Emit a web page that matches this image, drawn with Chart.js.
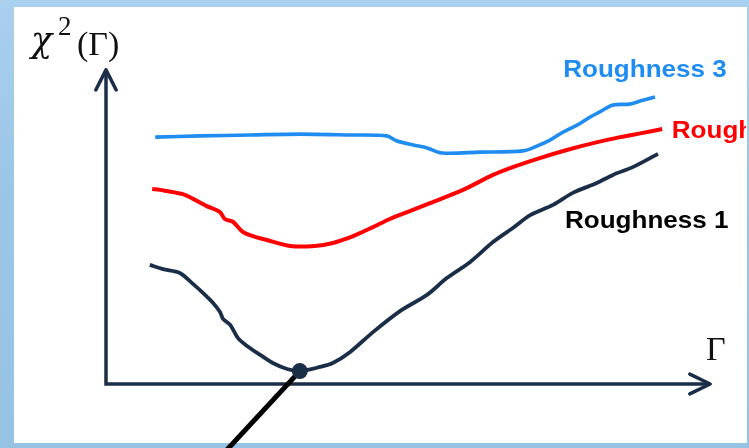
<!DOCTYPE html>
<html lang="en">

<head>
    <meta charset="UTF-8">
    <title>Chi-square vs Gamma</title>
    <script src="https://cdn.jsdelivr.net/npm/chart.js@4.4.0/dist/chart.umd.min.js"></script>
    <style>
        body { margin: 0; width: 749px; height: 448px; overflow: hidden;
               background: linear-gradient(180deg, #a9d0ee 0%, #9cc6e6 40%, #96c2e4 100%); }
        #panel { position: absolute; left: 14px; top: 7px; width: 733px; height: 436px; background: #fff; }
        #chart { position: absolute; left: 0; top: 0; }
    </style>
</head>

<body>
    <div id="panel"></div>
    <canvas id="chart" width="749" height="448"></canvas>
    <script>
        // values: x = Gamma, y = chi^2 (arbitrary units)
        const rough3X = [8.2, 15.7, 24.0, 32.3, 40.7, 46.8, 48.5, 51.2, 53.5, 56.0, 62.3, 69.5, 71.8, 74.0, 76.2, 78.5, 80.7, 82.3, 84.5, 87.3, 89.0, 91.5],
            rough3Y = [82.3, 82.7, 83.0, 83.3, 83.0, 82.7, 81.0, 79.7, 78.7, 77.0, 77.3, 77.7, 79.3, 81.3, 84.0, 86.3, 89.0, 90.7, 93.0, 93.3, 94.3, 95.7],
            rough2X = [7.7, 9.0, 12.8, 14.5, 16.8, 19.0, 19.8, 21.2, 22.8, 24.5, 26.8, 30.7, 34.8, 37.8, 41.2, 44.5, 47.3, 50.2, 54.0, 59.5, 64.5, 67.8, 72.3, 76.8, 81.2, 85.7, 89.5, 92.7],
            rough2Y = [65.0, 64.7, 63.3, 61.7, 59.3, 57.3, 55.0, 54.0, 50.7, 49.3, 48.0, 46.0, 46.0, 47.0, 49.3, 52.3, 55.0, 57.3, 60.3, 64.7, 69.7, 72.3, 75.3, 78.0, 80.3, 82.3, 83.7, 85.0],
            rough1X = [7.3, 9.5, 12.3, 14.3, 16.2, 17.7, 19.0, 19.5, 20.7, 22.0, 23.5, 25.7, 27.8, 30.2, 32.3, 35.7, 37.8, 40.7, 44.5, 49.0, 53.5, 56.8, 60.7, 64.5, 67.8, 70.7, 74.5, 77.8, 81.8, 84.5, 87.8, 92.0],
            rough1Y = [39.7, 38.3, 37.0, 33.7, 30.3, 27.3, 24.0, 21.7, 19.7, 15.3, 12.7, 9.7, 7.0, 5.0, 4.3, 5.7, 7.0, 10.7, 17.3, 24.3, 29.7, 35.3, 40.7, 47.3, 52.0, 56.3, 59.7, 63.7, 67.0, 69.7, 72.3, 76.7],
            minGamma = 32.3,
            minChi = 4.3,
            pointerEnd = [19.8, -22.7],
            axisEnd = [100.7, 104.7],
            seriesNames = ['Roughness 1', 'Roughness 2', 'Roughness 3'];

        const toPoints = (xs, ys) => xs.map((x, i) => ({ x, y: ys[i] })),
            navy = '#1b2e47',
            red = '#ff0000',
            blue = '#1e8cf0';

        // text stretched a little to the width of the original lettering
        const wideText = (ctx, text, x, y) => {
            ctx.save();
            ctx.translate(x, y);
            ctx.scale(1.085, 1);
            ctx.fillText(text, 0, 0);
            ctx.restore();
        };

        // arrow heads on the axes and the text labels
        const decorations = {
            id: 'decorations',
            afterDatasetsDraw(chart) {
                const { ctx, scales: { x, y } } = chart,
                    px = v => x.getPixelForValue(v),
                    py = v => y.getPixelForValue(v);
                ctx.save();
                ctx.strokeStyle = navy;
                ctx.lineWidth = 3.5;
                ctx.lineCap = 'round';
                ctx.lineJoin = 'round';
                ctx.beginPath();
                ctx.moveTo(px(-1.7), py(axisEnd[1] - 6.7));
                ctx.lineTo(px(0), py(axisEnd[1]));
                ctx.lineTo(px(1.7), py(axisEnd[1] - 6.7));
                ctx.moveTo(px(axisEnd[0] - 3.4), py(3.3));
                ctx.lineTo(px(axisEnd[0]), py(0));
                ctx.lineTo(px(axisEnd[0] - 3.4), py(-3.3));
                ctx.stroke();

                ctx.font = 'bold 24px "Liberation Sans", Arial, sans-serif';
                ctx.textBaseline = 'alphabetic';
                ctx.fillStyle = blue;
                wideText(ctx, seriesNames[2], px(76.2), py(102.3));
                ctx.fillStyle = '#000';
                wideText(ctx, seriesNames[0], px(76.5), py(52));
                ctx.save();
                ctx.beginPath();
                ctx.rect(0, 0, 746, 448);
                ctx.clip();
                ctx.fillStyle = red;
                wideText(ctx, seriesNames[1], px(94.3), py(82));
                ctx.restore();

                ctx.fillStyle = '#111';
                ctx.font = '34px "Liberation Serif", "Times New Roman", serif';
                ctx.fillText('\u0393', px(100), py(8));
                ctx.font = 'italic 35px "DejaVu Serif", serif';
                ctx.fillText('\u03c7', 31, 52);
                ctx.font = '27px "Liberation Serif", "Times New Roman", serif';
                ctx.fillText('2', 58, 35);
                ctx.font = '34px "Liberation Serif", "Times New Roman", serif';
                ctx.fillText('(\u0393)', 77, 55);
                ctx.restore();
            }
        };

        new Chart(document.getElementById('chart').getContext('2d'), {
            type: 'scatter',
            data: {
                datasets: [{
                    data: [{ x: minGamma, y: minChi }],
                    pointRadius: 8,
                    backgroundColor: navy,
                    borderWidth: 0,
                    showLine: false
                }, {
                    data: [{ x: minGamma, y: minChi }, { x: pointerEnd[0], y: pointerEnd[1] }],
                    borderColor: '#000',
                    borderWidth: 5,
                    pointRadius: 0,
                    showLine: true
                }, {
                    data: toPoints(rough1X, rough1Y),
                    borderColor: navy,
                    borderWidth: 3.8,
                    pointRadius: 0,
                    showLine: true,
                    tension: 0.3
                }, {
                    data: toPoints(rough2X, rough2Y),
                    borderColor: red,
                    borderWidth: 4,
                    pointRadius: 0,
                    showLine: true,
                    tension: 0.3
                }, {
                    data: toPoints(rough3X, rough3Y),
                    borderColor: blue,
                    borderWidth: 3.6,
                    pointRadius: 0,
                    showLine: true,
                    tension: 0.3
                }, {
                    // the two axes as one L shaped line
                    data: [{ x: 0, y: axisEnd[1] }, { x: 0, y: 0 }, { x: axisEnd[0], y: 0 }],
                    borderColor: navy,
                    borderWidth: 3.5,
                    borderJoinStyle: 'miter',
                    pointRadius: 0,
                    showLine: true
                }]
            },
            options: {
                responsive: false,
                animation: false,
                clip: false,
                layout: { padding: { left: 106, right: 43, top: 84, bottom: 64 } },
                plugins: { legend: { display: false }, tooltip: { enabled: false } },
                scales: {
                    x: { type: 'linear', display: false, min: 0, max: 100 },
                    y: { type: 'linear', display: false, min: 0, max: 100 }
                }
            },
            plugins: [decorations]
        });
    </script>
</body>

</html>
